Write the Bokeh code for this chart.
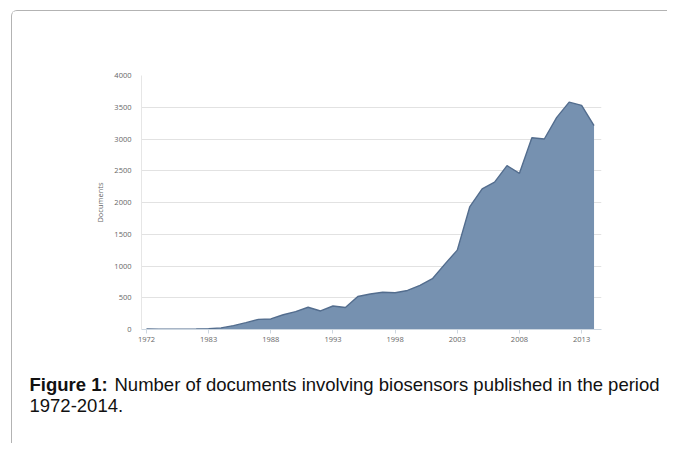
from bokeh.plotting import figure
from bokeh.layouts import column
from bokeh.models import Label, FixedTicker, Range1d
from bokeh.embed import file_html
from bokeh.resources import INLINE

# ---- data ----
years = [1972, 1979, 1980, 1981, 1982, 1983, 1984, 1985, 1986, 1987, 1988,
         1989, 1990, 1991, 1992, 1993, 1994, 1995, 1996, 1997, 1998, 1999,
         2000, 2001, 2002, 2003, 2004, 2005, 2006, 2007, 2008, 2009, 2010,
         2011, 2012, 2013, 2014]
documents = [8, 4, 5, 6, 8, 12, 25, 62, 108, 160, 166,
             232, 282, 350, 292, 370, 346, 520, 560, 586, 578, 615,
             695, 800, 1030, 1250, 1930, 2215, 2320, 2580, 2460, 3020, 3000,
             3340, 3580, 3530, 3210]
tick_years = [1972, 1983, 1988, 1993, 1998, 2003, 2008, 2013]
y_ticks = [0, 500, 1000, 1500, 2000, 2500, 3000, 3500, 4000]
y_title = "Documents"
caption_bold = "Figure 1:"
caption_rest = "Number of documents involving biosensors published in the period"
caption_line2 = "1972-2014."

xs = list(range(len(years)))
tick_pos = [years.index(y) for y in tick_years]

# page geometry (column starts at page x=12, y=11 after margin + border)
OX, OY = 12, 11
W = 667 - OX
CH = 344                      # chart figure height
BL, BT = 141 - OX, 75 - OY
FW, FH = 460, 254
BR = W - BL - FW
BB = CH - BT - FH
X0, X1 = -0.4, 36.6

p = figure(width=W, height=CH, output_backend="svg", toolbar_location=None,
           x_range=Range1d(X0, X1), y_range=Range1d(0, 4000),
           min_border_left=BL, min_border_right=BR, min_border_top=BT,
           min_border_bottom=BB, outline_line_color=None,
           background_fill_color="white", border_fill_color="white")

p.varea(x=xs, y1=0, y2=documents, fill_color="#7691b0", fill_alpha=1.0)
p.line(x=xs, y=documents, line_color="#536d8e", line_width=1.4)

xa = p.xaxis[0]
xa.ticker = FixedTicker(ticks=tick_pos)
xa.major_label_overrides = {pos: str(y) for pos, y in zip(tick_pos, tick_years)}
xa.minor_tick_line_color = None
xa.major_tick_in = 0
xa.major_tick_out = 4
xa.major_tick_line_color = "#ccd6e0"
xa.axis_line_color = "#ccd6e0"
xa.major_label_standoff = 3
xa.major_label_text_font = "Open Sans"
xa.major_label_text_font_size = "7.5px"
xa.major_label_text_color = "#666666"

ya = p.yaxis[0]
ya.ticker = FixedTicker(ticks=y_ticks)
ya.minor_tick_line_color = None
ya.major_tick_line_color = None
ya.major_tick_out = 0
ya.major_tick_in = 0
ya.axis_line_color = "#e6e6e6"
ya.major_label_standoff = 10
ya.major_label_text_font = "Open Sans"
ya.major_label_text_font_size = "7.5px"
ya.major_label_text_color = "#666666"
ya.axis_label = y_title
ya.axis_label_text_font = "Open Sans"
ya.axis_label_text_font_size = "7.5px"
ya.axis_label_text_font_style = "normal"
ya.axis_label_text_color = "#666666"
ya.axis_label_standoff = 6

p.xgrid.grid_line_color = None
p.ygrid.grid_line_color = "#e2e2e2"
p.ygrid.grid_line_width = 1

# caption figure: frame fills the canvas, ranges in pixels (y downwards)
CAP_H = 88
cap_top = OY + CH
c = figure(width=W, height=CAP_H, output_backend="svg", toolbar_location=None,
           x_range=Range1d(0, W), y_range=Range1d(CAP_H, 0),
           min_border=0, min_border_left=0, min_border_right=0,
           min_border_top=0, min_border_bottom=0,
           outline_line_color=None, x_axis_location=None,
           y_axis_location=None, background_fill_color="white",
           border_fill_color="white")
c.xgrid.visible = False
c.ygrid.visible = False

for fig in (p, c):
    if "frame_align" in fig.properties():
        fig.frame_align = False

fs = "18.5px"
l1 = Label(x=29.0 - OX, y=383.5 - cap_top, text=caption_bold,
           text_font="Liberation Sans", text_font_style="bold",
           text_font_size=fs, text_color="#111111", text_baseline="alphabetic")
l2 = Label(x=114.0 - OX, y=383.5 - cap_top, text=caption_rest,
           text_font="Liberation Sans", text_font_size=fs,
           text_color="#111111", text_baseline="alphabetic")
l3 = Label(x=29.0 - OX, y=404.5 - cap_top, text=caption_line2,
           text_font="Liberation Sans", text_font_size=fs,
           text_color="#111111", text_baseline="alphabetic")
for l in (l1, l2, l3):
    c.add_layout(l)

layout = column(p, c, margin=(10, 0, 0, 11), spacing=0,
                styles={"border-top": "1px solid #b3b3b3",
                        "border-left": "1px solid #b3b3b3",
                        "border-top-left-radius": "6px",
                        "background-color": "white"})

open("out.html", "w").write(file_html(layout, INLINE))
